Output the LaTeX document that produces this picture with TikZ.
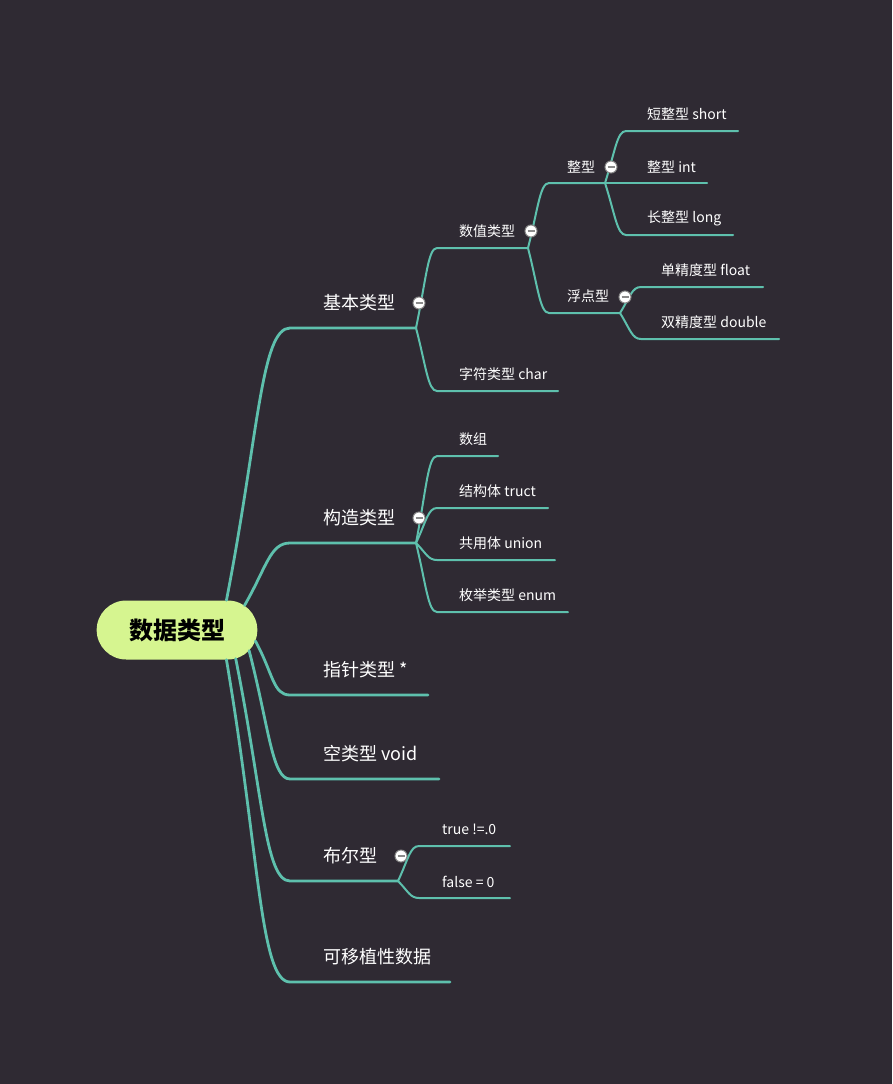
\documentclass[tikz,border=0pt]{standalone}
\usepackage{fontspec}
\setmainfont{Noto Sans CJK SC}
\usetikzlibrary{shapes.misc}
\definecolor{mapbg}{HTML}{2F2A33}
\definecolor{branchteal}{HTML}{5EC0AD}
\definecolor{rootlime}{HTML}{D6F590}
\definecolor{foldgray}{HTML}{8A8A8A}

\begin{document}
\begin{tikzpicture}[
		x=1pt, y=-1pt,
		font=\fontsize{14}{16}\selectfont,
		root/.style={rounded rectangle, fill=rootlime, minimum width=156pt, minimum height=59pt,
			inner xsep=30pt, text=black, font=\fontsize{24}{28}\selectfont\bfseries},
		major/.style={anchor=west, inner sep=0pt, text=white, font=\fontsize{18}{20}\selectfont},
		minor/.style={anchor=west, inner sep=0pt, text=white},
		link/.style={draw=branchteal, line width=2pt, line cap=round},
		mainlink/.style={link, line width=2.8pt},
		fold/.style={circle, draw=foldgray, fill=white, line width=1pt, minimum size=12pt, inner sep=0pt,
			path picture={\draw[foldgray, line width=1.5pt] ([xshift=-3.5pt]path picture bounding box.center) -- ([xshift=3.5pt]path picture bounding box.center);}}
		]

		\fill[mapbg] (0,0) rectangle (892,1084);

		\node[root] (root) at (177,630) {数据类型};

		% first level
		\foreach \n/\t/\y/\e/\a/\u/\v/\w in {jiben/基本类型/328/416/31/32/-164/29,
				gouzao/构造类型/543/416/20/22/-38/20,
				zhizhen/指针类型 */695/428/352/18/33/17,
				kong/空类型 void/779/439/344/20/77/18,
				buer/布尔型/881/398/334/27/134/25,
				yizhi/可移植性数据/982/450/329/33/194/30} {
			\node[major] (\n) at (323,\y-25) {\t};
			\coordinate (\n-s) at (290,\y);
			\coordinate (\n-e) at (\e,\y);
			\draw[mainlink] (root.\a) .. controls +(\u,\v) and +(-\w,0) .. (\n-s) -- (\n-e);
		}

		% deeper levels
		\foreach \p/\n/\t/\x/\s/\y/\e/\v in {jiben-e/shuzhi/数值类型/459/437/248/528/-48,
				jiben-e/zifu/字符类型 char/459/437/391/558/38,
				shuzhi-e/zhengxing/整型/567/549/183/605/-39,
				shuzhi-e/fudian/浮点型/567/549/313/620/39,
				zhengxing-e/duan/短整型 short/647/626/131/738/-31,
				zhengxing-e/chang/长整型 long/647/626/235/733/31,
				fudian-e/dan/单精度型 float/661/641/287/763/-16,
				fudian-e/shuang/双精度型 double/661/641/339/779/16,
				gouzao-e/shuzu/数组/459/437/456/498/-52,
				gouzao-e/jiegou/结构体 truct/459/437/508/548/-21,
				gouzao-e/gongyong/共用体 union/459/437/560/555/10,
				gouzao-e/meiju/枚举类型 enum/459/437/612/568/41,
				buer-e/zhen/true !=.0/442/419/846/510/-21,
				buer-e/jia/false = 0/442/419/898/510/10} {
			\node[minor] (\n) at (\x,\y-16.5) {\t};
			\coordinate (\n-s) at (\s,\y);
			\coordinate (\n-e) at (\e,\y);
			\draw[link] (\p) .. controls +(10,\v) and +(-9,0) .. (\n-s) -- (\n-e);
		}

		\node[minor] (zheng) at (647,166.5) {整型 int};
		\coordinate (zheng-e) at (707,183);
		\draw[link] (zhengxing-e) -- (zheng-e);

		% collapse buttons
		\foreach \n/\x/\y in {jiben/419/303, gouzao/419/518, buer/401/856,
				shuzhi/531/231, zhengxing/611/167, fudian/625/297} {
			\node[fold] (\n-fold) at (\x,\y) {};
		}

	\end{tikzpicture}
\end{document}
